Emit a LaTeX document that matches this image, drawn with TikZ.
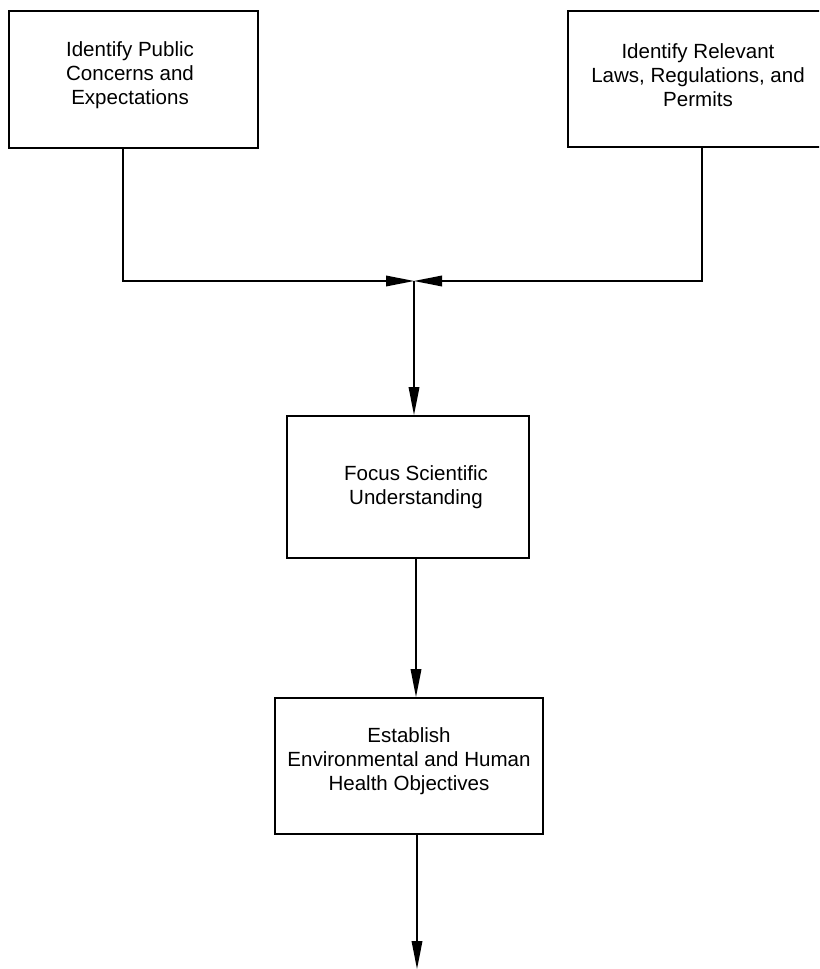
\documentclass[tikz,border=0pt]{standalone}
\usepackage{fontspec}
\setmainfont{Liberation Sans}
\usetikzlibrary{arrows.meta}
\begin{document}
\begin{tikzpicture}[x=0.75pt,y=-0.75pt,
  box/.style={draw, line width=1.4pt, inner sep=0pt},
  txt/.style={align=center, font=\fontsize{15.4}{18}\selectfont, inner sep=0pt},
  conn/.style={line width=1pt},
  arr/.style={conn, -{Triangle[length=21pt,width=8pt]}}]
\useasboundingbox (0,0) rectangle (819,969);
\clip (0,0) rectangle (819,969);
\node[box, minimum width=186.75pt, minimum height=102.75pt,
  label={[txt, xshift=-2.6pt, yshift=3.4pt]center:{Identify Public\\Concerns and\\Expectations}}]
  (b1) at (133.5,79.5) {};
\node[box, minimum width=195pt, minimum height=102pt,
  label={[txt, yshift=3pt]center:{Identify Relevant\\Laws, Regulations, and\\Permits}}]
  (b2) at (698,79) {};
\node[box, minimum width=181.5pt, minimum height=106.5pt,
  label={[txt, xshift=6pt]center:{Focus Scientific\\Understanding}}]
  (b3) at (408,487) {};
\node[box, minimum width=201pt, minimum height=102pt,
  label={[txt, yshift=3.75pt]center:{Establish\\Environmental and Human\\Health Objectives}}]
  (b4) at (409,766) {};
\coordinate (j) at (414,281);
\coordinate (a1) at (123,0);
\coordinate (a2) at (702,0);
\coordinate (c3) at (416,0);
\coordinate (e) at (417,969);
\draw[arr] (b1.south -| a1) |- (j);
\draw[arr] (b2.south -| a2) |- (j);
\draw[arr] (j) -- (j |- b3.north);
\draw[arr] (b3.south -| c3) -- (c3 |- b4.north);
\draw[arr] (b4.south -| e) -- (e);
\end{tikzpicture}
\end{document}
